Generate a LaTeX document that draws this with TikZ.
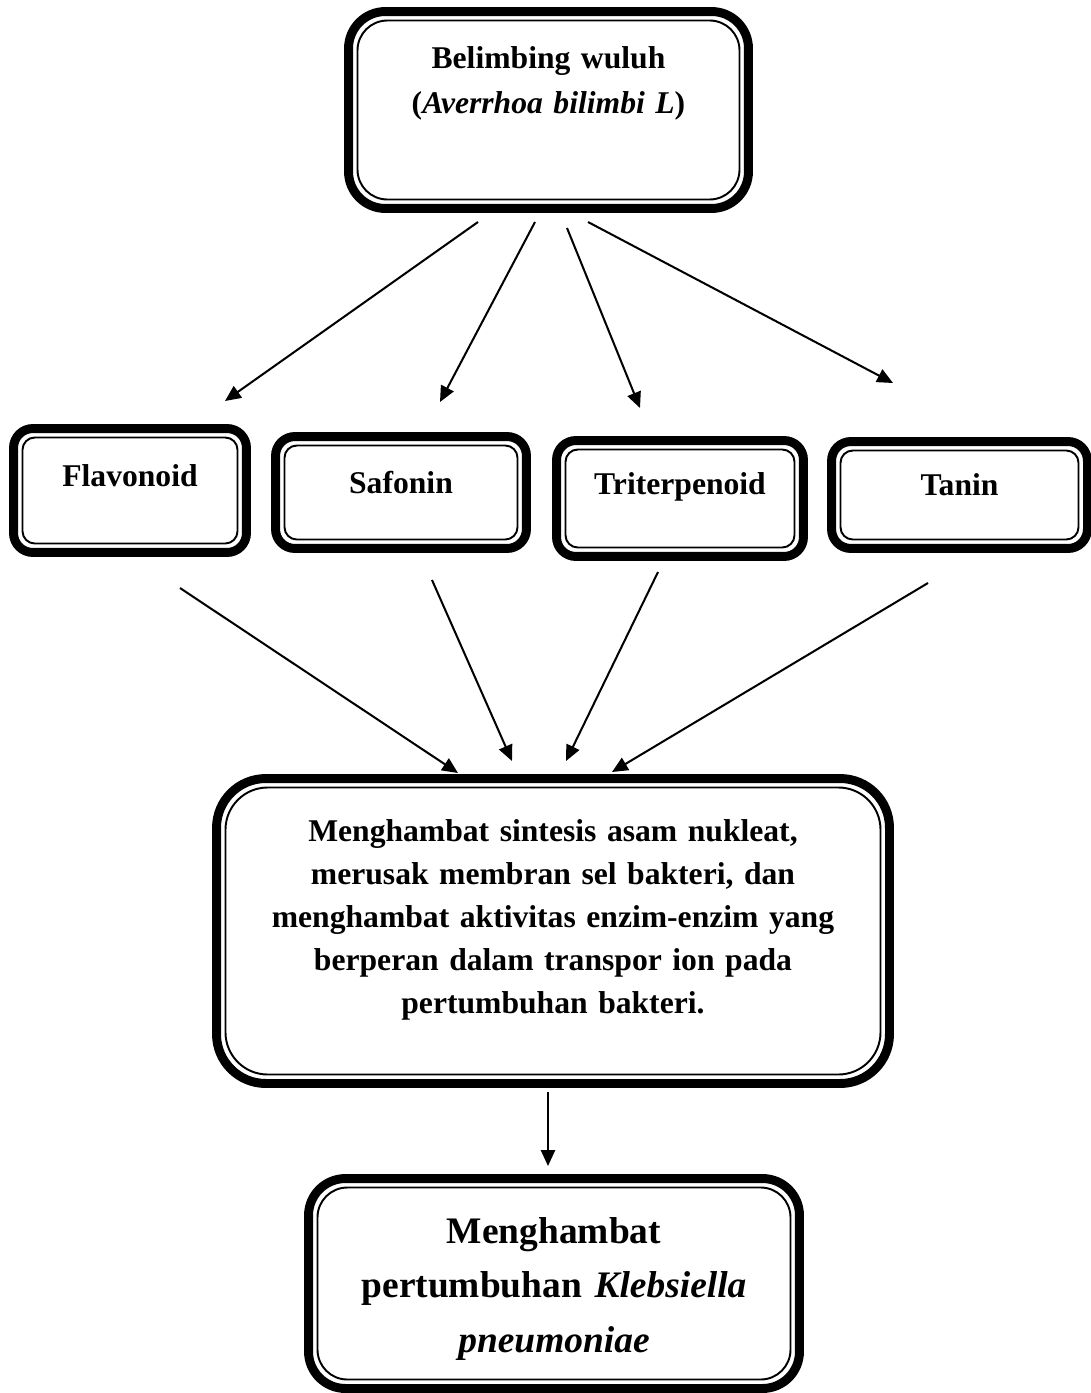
\documentclass[tikz,border=0pt]{standalone}
\usepackage{fontspec}
\setmainfont{Liberation Serif}
\usetikzlibrary{arrows.meta}
\tikzset{
  inbox/.style={draw, line width=1.1pt, rounded corners=#1, inner sep=0pt, align=center,
    text height=14pt, font=\fontsize{18}{24.5}\selectfont\bfseries},
  inbox/.default=7pt,
  outbox/.style={draw, line width=5.1pt, rounded corners=#1},
  arr/.style={-{Triangle[length=9pt,width=8pt]}, line width=1.15pt}
}
\begin{document}
\begin{tikzpicture}[x=0.2mm, y=-0.2mm]
  \useasboundingbox (0,0) rectangle (1091,1393);
  \node[inbox=17pt, minimum width=7.64cm, minimum height=3.58cm, text width=200pt,
    text depth=61.6pt, font=\fontsize{18}{26}\selectfont\bfseries] (top) at (548.5,110)
    {Belimbing wuluh\\(\textit{Averrhoa bilimbi L})};
  \node[inbox, minimum width=4.3cm, minimum height=2.12cm, text depth=19.1pt] (fla) at (130,490.5) {Flavonoid};
  \node[inbox, minimum width=4.66cm, minimum height=1.88cm, text depth=13.4pt] (saf) at (401,492.5) {Safonin};
  \node[inbox, minimum width=4.58cm, minimum height=1.96cm, text depth=18pt] (tri) at (680,498.5) {Triterpenoid};
  \node[inbox, minimum width=4.76cm, minimum height=1.78cm, text depth=12.9pt] (tan) at (959.5,495) {Tanin};
  \node[inbox=24pt, minimum width=13.1cm, minimum height=5.74cm, text width=340pt,
    text depth=116pt] (main) at (553,931)
    {Menghambat sintesis asam nukleat,\\ merusak membran sel bakteri, dan\\
     menghambat aktivitas enzim-enzim yang\\ berperan dalam transpor ion pada\\
     pertumbuhan bakteri.};
  \node[inbox=17pt, minimum width=9.46cm, minimum height=3.84cm, text width=250pt,
    text height=16pt, text depth=62pt, font=\fontsize{21.3}{31}\selectfont\bfseries] (bot) at (554,1283.5)
    {Menghambat\\ pertumbuhan \textit{Klebsiella}\\ \textit{pneumoniae}};
  \foreach \n/\r in {top/21pt, fla/11pt, saf/11pt, tri/11pt, tan/11pt, main/28pt, bot/21pt}
    \draw[outbox=\r] ([shift={(-8,8)}]\n.south west) rectangle ([shift={(8,-8)}]\n.north east);
  \foreach \i/\sx/\sy/\ex/\ey in {1/478/222/225/401, 2/535/222/440/402, 3/567/228/640/408,
      4/588/222/893/383, 5/180/588/458/773, 6/432/580/512/761, 7/658/572/566/761,
      8/928/583/612/772, 9/548/1092/548/1166} {
    \coordinate (from\i) at (\sx,\sy);
    \coordinate (to\i) at (\ex,\ey);
    \draw[arr] (from\i) -- (to\i);
  }
\end{tikzpicture}
\end{document}
